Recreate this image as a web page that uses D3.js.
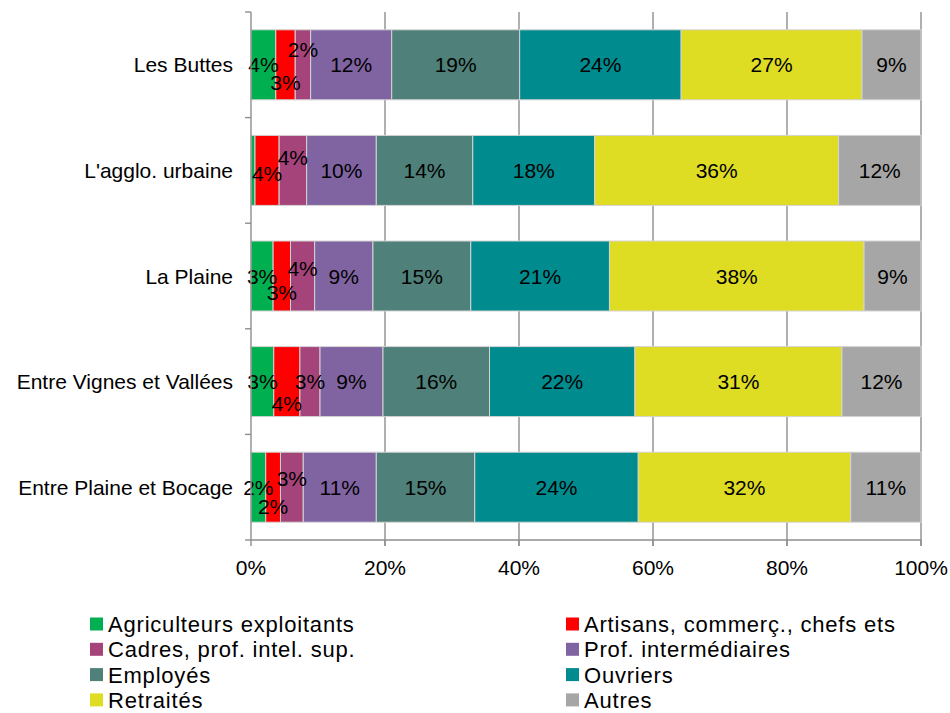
<!DOCTYPE html>
<html>
<head>
<meta charset="utf-8">
<script src="https://cdn.jsdelivr.net/npm/d3@7"></script>
<style>
    body { margin: 0; background: #fff; }
    text { font-family: "Liberation Sans", Arial, sans-serif; fill: #000; }
</style>
</head>
<body>
<div id="chart"></div>
<script>
const categories = ["Les Buttes", "L'agglo. urbaine", "La Plaine", "Entre Vignes et Vallées", "Entre Plaine et Bocage"];
const seriesNames = ["Agriculteurs exploitants", "Artisans, commerç., chefs ets", "Cadres, prof. intel. sup.",
    "Prof. intermédiaires", "Employés", "Ouvriers", "Retraités", "Autres"];
const agriculteurs = [3.7, 0.6, 3.3, 3.4, 2.2];
const artisans = [2.9, 3.6, 2.6, 3.9, 2.2];
const cadres = [2.3, 4.1, 3.6, 3.0, 3.4];
const profInter = [12.1, 10.4, 8.7, 9.4, 10.9];
const employes = [19.1, 14.4, 14.6, 15.9, 14.7];
const ouvriers = [24.1, 18.2, 20.7, 21.7, 24.4];
const retraites = [27.0, 36.4, 38.0, 30.9, 31.7];
const autres = [8.8, 12.3, 8.5, 11.8, 10.5];
const xTicks = [0, 0.2, 0.4, 0.6, 0.8, 1];

const colors = ["#00b050", "#ff0000", "#a5437b", "#8064a2", "#4f8079", "#008b8f", "#dfdc24", "#a6a6a6"];
// manual vertical nudges of the small labels (like the original), per category, first 3 series
const labelShift = [[0, 18, -15], [0, 3, -13], [0, 16, -8], [0, 22, 0], [0, 19, -9]];

const allSeries = [agriculteurs, artisans, cadres, profInter, employes, ouvriers, retraites, autres];
const table = categories.map((c, i) => {
    const row = { cat: c };
    seriesNames.forEach((s, j) => row[s] = allSeries[j][i]);
    return row;
});

const width = 950, height = 713;
const svg = d3.select("#chart").append("svg")
    .attr("width", width)
    .attr("height", height);

const x = d3.scaleLinear().domain([0, 1]).range([251, 921]);
const y = d3.scaleBand().domain(categories).range([12, 540])
    .paddingInner(0.337).paddingOuter(0.1685);

const stacked = d3.stack().keys(seriesNames).offset(d3.stackOffsetExpand)(table);

// gridlines
svg.append("g")
    .selectAll("line")
    .data(xTicks.slice(1))
    .enter().append("line")
    .attr("x1", d => x(d)).attr("x2", d => x(d))
    .attr("y1", 12).attr("y2", 546)
    .attr("stroke", "#8e8e8e")
    .attr("stroke-width", 1.4);

// bars
const layers = svg.append("g")
    .selectAll("g")
    .data(stacked)
    .enter().append("g")
    .attr("fill", (d, i) => colors[i]);

layers.selectAll("rect")
    .data(d => d)
    .enter().append("rect")
    .attr("x", d => x(d[0]))
    .attr("width", d => x(d[1]) - x(d[0]))
    .attr("y", d => y(d.data.cat))
    .attr("height", y.bandwidth())
    .attr("stroke", "#d4d4d4")
    .attr("stroke-width", 1);

// value labels
stacked.forEach((layer, si) => {
    svg.append("g")
        .selectAll("text")
        .data(layer)
        .enter().append("text")
        .filter(d => d.data[layer.key] >= 1)
        .attr("x", d => (x(d[0]) + x(d[1])) / 2)
        .attr("y", d => {
            const ci = categories.indexOf(d.data.cat);
            const shift = si < 3 ? labelShift[ci][si] : 0;
            return y(d.data.cat) + y.bandwidth() / 2 + shift;
        })
        .attr("dy", "0.36em")
        .attr("text-anchor", "middle")
        .style("font-size", "21px")
        .text(d => Math.round(d.data[layer.key]) + "%");
});

// y axis
const yAxis = svg.append("g");
yAxis.append("line")
    .attr("x1", 251).attr("x2", 251)
    .attr("y1", 12).attr("y2", 540)
    .attr("stroke", "#8e8e8e").attr("stroke-width", 1.4);
const bounds = categories.map(c => y(c) - y.step() * y.paddingInner() / 2).concat([540]);
yAxis.selectAll(".tk")
    .data(bounds)
    .enter().append("line")
    .attr("x1", 245).attr("x2", 251)
    .attr("y1", d => d).attr("y2", d => d)
    .attr("stroke", "#8e8e8e").attr("stroke-width", 1.4);
yAxis.selectAll("text")
    .data(categories)
    .enter().append("text")
    .attr("x", 233)
    .attr("y", d => y(d) + y.bandwidth() / 2)
    .attr("dy", "0.36em")
    .attr("text-anchor", "end")
    .style("font-size", "21px")
    .text(d => d);

// x axis
const xAxis = svg.append("g");
xAxis.append("line")
    .attr("x1", 251).attr("x2", 921)
    .attr("y1", 540).attr("y2", 540)
    .attr("stroke", "#8e8e8e").attr("stroke-width", 1.4);
xAxis.selectAll(".tk")
    .data(xTicks)
    .enter().append("line")
    .attr("x1", d => x(d)).attr("x2", d => x(d))
    .attr("y1", 540).attr("y2", 546)
    .attr("stroke", "#8e8e8e").attr("stroke-width", 1.4);
xAxis.selectAll("text")
    .data(xTicks)
    .enter().append("text")
    .attr("x", d => x(d))
    .attr("y", 567)
    .attr("dy", "0.36em")
    .attr("text-anchor", "middle")
    .style("font-size", "21px")
    .text(d3.format(".0%"));

// legend, two columns
const legend = svg.append("g")
    .selectAll("g")
    .data(seriesNames)
    .enter().append("g")
    .attr("transform", (d, i) => `translate(${i % 2 ? 566 : 90},${624 + Math.floor(i / 2) * 25.3})`);

legend.append("rect")
    .attr("x", 0).attr("y", -6.5)
    .attr("width", 13).attr("height", 13)
    .attr("fill", (d, i) => colors[i]);

legend.append("text")
    .attr("x", 18)
    .attr("dy", "0.36em")
    .style("font-size", "22px")
    .style("letter-spacing", "0.8px")
    .text(d => d);
</script>
</body>
</html>
